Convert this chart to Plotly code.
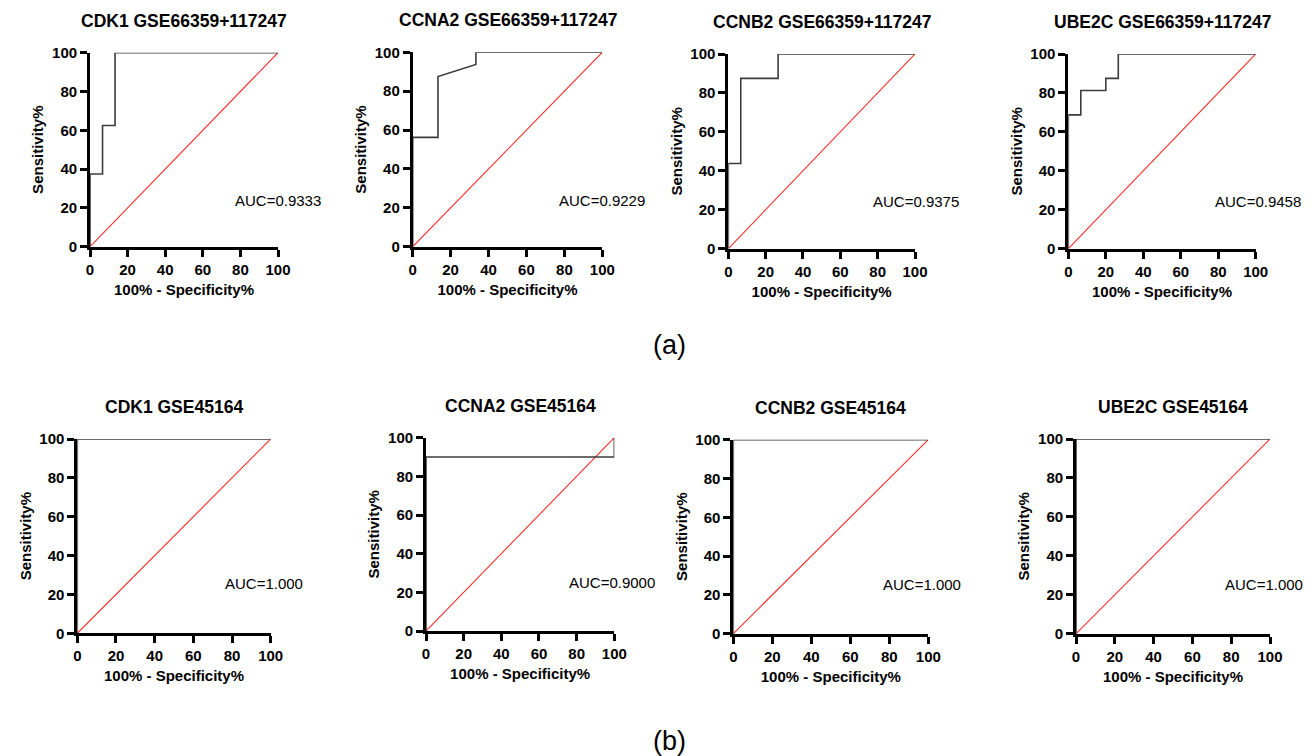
import plotly.graph_objects as go

W, H = 1315, 756
OX, OY = 8, 8  # page body margin offset in the browser

# ---- data ----
titles = ["CDK1 GSE66359+117247", "CCNA2 GSE66359+117247", "CCNB2 GSE66359+117247", "UBE2C GSE66359+117247",
          "CDK1 GSE45164", "CCNA2 GSE45164", "CCNB2 GSE45164", "UBE2C GSE45164"]
auc_labels = ["AUC=0.9333", "AUC=0.9229", "AUC=0.9375", "AUC=0.9458",
              "AUC=1.000", "AUC=0.9000", "AUC=1.000", "AUC=1.000"]

# ROC curves: x = 100% - Specificity%, y = Sensitivity%
cdk1_a_x = [0, 0, 6.67, 6.67, 13.33, 13.33, 100]
cdk1_a_y = [0, 37.5, 37.5, 62.5, 62.5, 100, 100]
ccna2_a_x = [0, 0, 13.33, 13.33, 33.33, 33.33, 100]
ccna2_a_y = [0, 56.25, 56.25, 87.5, 93.75, 100, 100]
ccnb2_a_x = [0, 0, 6.67, 6.67, 26.67, 26.67, 100]
ccnb2_a_y = [0, 43.75, 43.75, 87.5, 87.5, 100, 100]
ube2c_a_x = [0, 0, 6.67, 6.67, 20, 20, 26.67, 26.67, 100]
ube2c_a_y = [0, 68.75, 68.75, 81.25, 81.25, 87.5, 87.5, 100, 100]
cdk1_b_x = [0, 0, 100]
cdk1_b_y = [0, 100, 100]
ccna2_b_x = [0, 0, 100, 100]
ccna2_b_y = [0, 90, 90, 100]
ccnb2_b_x = [0, 0, 100]
ccnb2_b_y = [0, 100, 100]
ube2c_b_x = [0, 0, 100]
ube2c_b_y = [0, 100, 100]

curves = [(cdk1_a_x, cdk1_a_y), (ccna2_a_x, ccna2_a_y), (ccnb2_a_x, ccnb2_a_y), (ube2c_a_x, ube2c_a_y),
          (cdk1_b_x, cdk1_b_y), (ccna2_b_x, ccna2_b_y), (ccnb2_b_x, ccnb2_b_y), (ube2c_b_x, ube2c_b_y)]

ref_x = [0, 100]
ref_y = [0, 100]
tick_vals = [0, 20, 40, 60, 80, 100]
tick_text = ["0", "20", "40", "60", "80", "100"]
auc_pos = [(76, 24), (76, 24), (76.5, 24), (77, 24), (75.5, 25.5), (75, 25), (75.5, 25.5), (76, 25.5)]

# ---- layout (pixel boxes of plot areas) ----
boxes = [(90, 278, 52.7, 246.7), (412.7, 602.3, 52.3, 246.7), (728.3, 915, 54, 248.7), (1068.3, 1255.7, 54, 248.7),
         (77.3, 270.7, 439, 633.3), (426, 614.3, 437.7, 631), (733.3, 928.3, 439.7, 633.7), (1076, 1270, 439, 633.7)]


def px(x):
    return (x - OX) / W


def py(y):
    return 1 - (y - OY) / H


FONT = "Arial, Liberation Sans, sans-serif"
fig = go.Figure()
layout = dict(width=W, height=H, margin=dict(l=0, r=0, t=0, b=0, autoexpand=False), showlegend=False,
              template="none",
              paper_bgcolor="white", plot_bgcolor="white", font=dict(family=FONT, color="black"))
annotations = []

for i in range(8):
    k = "" if i == 0 else str(i + 1)
    x0, x1, y0, y1 = boxes[i]
    cx, cy = curves[i]
    fig.add_trace(go.Scatter(x=ref_x, y=ref_y, mode="lines", line=dict(color="#ff2a2a", width=1.1),
                             xaxis="x" + k, yaxis="y" + k, cliponaxis=False, hoverinfo="skip"))
    fig.add_trace(go.Scatter(x=cx, y=cy, mode="lines", line=dict(color="#3c3c3c", width=1.6),
                             xaxis="x" + k, yaxis="y" + k, cliponaxis=False))
    axcommon = dict(range=[0, 100], tickvals=tick_vals, ticktext=tick_text, showgrid=False, zeroline=False,
                    automargin=False,
                    showline=True, linecolor="black", linewidth=2.8, ticks="outside", ticklen=7,
                    tickwidth=2.8, tickcolor="black",
                    tickfont=dict(family=FONT, size=15, color="black", weight="bold"))
    layout["xaxis" + k] = dict(axcommon, domain=[px(x0), px(x1)], anchor="y" + k,
                               title=dict(text="<b>100% - Specificity%</b>", standoff=8,
                                          font=dict(family=FONT, size=15, color="black")))
    layout["yaxis" + k] = dict(axcommon, domain=[py(y1), py(y0)], anchor="x" + k,
                               title=dict(text="<b>Sensitivity%</b>", standoff=5,
                                          font=dict(family=FONT, size=15, color="black")))
    annotations.append(dict(text="<b>" + titles[i] + "</b>", x=px((x0 + x1) / 2), y=py(y0 - 32),
                            xref="paper", yref="paper", showarrow=False, xanchor="center", yanchor="middle",
                            font=dict(family=FONT, size=17.5, color="black")))
    ax, ay = auc_pos[i]
    annotations.append(dict(text=auc_labels[i], x=ax, y=ay, xref="x" + k, yref="y" + k, showarrow=False,
                            xanchor="left", yanchor="middle", font=dict(family=FONT, size=15, color="black")))

annotations.append(dict(text="(a)", x=px(669), y=py(345), xref="paper", yref="paper", showarrow=False,
                        xanchor="center", yanchor="middle", font=dict(family=FONT, size=27, color="black")))
annotations.append(dict(text="(b)", x=px(670), y=py(741), xref="paper", yref="paper", showarrow=False,
                        xanchor="center", yanchor="middle", font=dict(family=FONT, size=27, color="black")))
layout["annotations"] = annotations
fig.update_layout(**layout)
fig.write_html("out.html")
